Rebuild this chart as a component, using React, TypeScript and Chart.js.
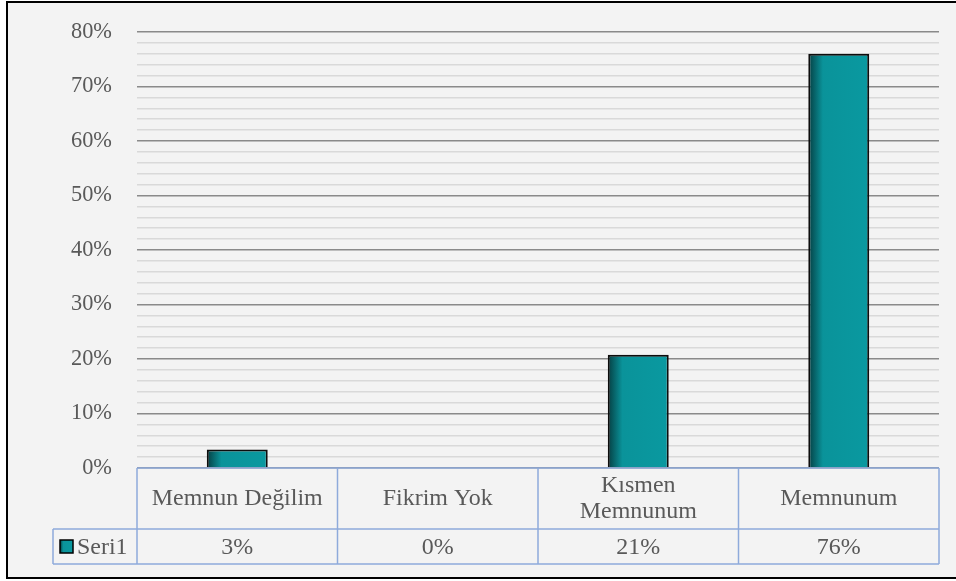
import React, { useEffect, useRef } from "react";
import { Chart, registerables } from "chart.js";

Chart.register(...registerables);

const categories: (string | string[])[] = ["Memnun Değilim", "Fikrim Yok", ["Kısmen", "Memnunum"], "Memnunum"];
const seriesName = "Seri1";
const values = [3.4, 0, 20.8, 76.0];
const yMax = 80;
const yStep = 2;
const yLabelStep = 10;

const FONT = "'Liberation Serif', Tinos, 'Times New Roman', Times, 'Nimbus Roman', FreeSerif, 'DejaVu Serif'";
const TEXT = "#595959";
const TABLE_LINE = "#8eaadb";
const BAR_PCT = 0.304;

function barGradient(c: CanvasRenderingContext2D, x0: number, x1: number) {
  const g = c.createLinearGradient(x0, 0, x1, 0);
  g.addColorStop(0, "#053e42");
  g.addColorStop(0.24, "#0a939a");
  g.addColorStop(1, "#0a99a0");
  return g;
}

function fitSize(text: string, target: number) {
  const cv = document.createElement("canvas");
  const c = cv.getContext("2d")!;
  c.font = `100px ${FONT}`;
  const w = c.measureText(text).width;
  return Math.min(24, (100 * target) / w);
}

export default function App() {
  const ref = useRef<HTMLCanvasElement>(null);
  useEffect(() => {
    if (!ref.current) return;
    let chart: Chart | null = null;
    let cancelled = false;
    const build = () => {
      if (cancelled || !ref.current) return;
      const size = fitSize("Memnun Değilim", 171);
      const tickSize = fitSize("80%", 41);
      const framePlugin = {
        id: "frame",
        beforeDraw(ch: any) {
          const c = ch.ctx as CanvasRenderingContext2D;
          c.save();
          c.fillStyle = "#ffffff";
          c.fillRect(0, 0, ch.width, ch.height);
          c.fillStyle = "#f3f3f3";
          c.fillRect(7, 2, ch.width, 576);
          c.strokeStyle = "#000000";
          c.lineWidth = 2;
          c.strokeRect(7, 2, ch.width + 10, 576);
          c.restore();
        },
        afterDraw(ch: any) {
          const c = ch.ctx as CanvasRenderingContext2D;
          const area = ch.chartArea;
          const xs = ch.scales.x;
          const n = categories.length;
          const colW = (area.right - area.left) / n;
          const top = area.bottom;
          const mid = 529;
          const bot = 564;
          const legendLeft = 53;
          c.save();
          c.strokeStyle = TABLE_LINE;
          c.lineWidth = 1.5;
          c.beginPath();
          c.moveTo(area.left, top);
          c.lineTo(area.right, top);
          c.moveTo(legendLeft, mid);
          c.lineTo(area.right, mid);
          c.moveTo(legendLeft, bot);
          c.lineTo(area.right, bot);
          c.moveTo(legendLeft, mid);
          c.lineTo(legendLeft, bot);
          for (let i = 0; i <= n; i++) {
            const x = area.left + colW * i;
            c.moveTo(x, top);
            c.lineTo(x, bot);
          }
          c.stroke();

          c.fillStyle = TEXT;
          c.font = `${size}px ${FONT}`;
          c.textAlign = "center";
          c.textBaseline = "middle";
          const catCenter = (top + mid) / 2 + 0.5;
          const valCenter = (mid + bot) / 2 + 1;
          for (let i = 0; i < n; i++) {
            const cx = xs.getPixelForValue(i);
            const lab = categories[i];
            const lines = Array.isArray(lab) ? lab : [lab];
            const lh = 26;
            const startY = catCenter - ((lines.length - 1) * lh) / 2;
            lines.forEach((t, k) => c.fillText(t, cx, startY + k * lh));
            c.fillText(Math.round(values[i]) + "%", cx, valCenter);
          }
          c.fillStyle = barGradient(c, 60, 73);
          c.fillRect(60, 540, 13, 13);
          c.strokeStyle = "#000000";
          c.lineWidth = 1.5;
          c.strokeRect(60, 540, 13, 13);
          c.fillStyle = TEXT;
          c.textAlign = "left";
          c.fillText(seriesName, 77, valCenter);
          c.restore();
        },
      };
      chart = new Chart(ref.current, {
        type: "bar",
        data: {
          labels: categories as any,
          datasets: [
            {
              label: seriesName,
              data: values,
              backgroundColor: (ctx: any) => {
                const ch = ctx.chart;
                const xs = ch.scales && ch.scales.x;
                if (!xs || ctx.type !== "data" || !ch.chartArea) return "#0a99a0";
                const cx = xs.getPixelForValue(ctx.dataIndex);
                const w = ((ch.chartArea.right - ch.chartArea.left) / categories.length) * BAR_PCT;
                return barGradient(ch.ctx, cx - w / 2, cx + w / 2);
              },
              borderColor: "#0d0d0d",
              borderWidth: 2,
              categoryPercentage: 1,
              barPercentage: BAR_PCT,
            },
          ],
        },
        options: {
          responsive: false,
          animation: false,
          devicePixelRatio: 1,
          layout: { padding: { left: 0, top: 32, right: 17, bottom: 113 } },
          plugins: { legend: { display: false }, tooltip: { enabled: false } },
          scales: {
            x: { display: false },
            y: {
              min: 0,
              max: yMax,
              afterFit: (s: any) => {
                s.width = 137;
                s.paddingTop = 5;
                s.paddingBottom = 5;
              },
              border: { display: false },
              grid: {
                drawTicks: false,
                color: (ctx: any) => (ctx.tick && ctx.tick.value % yLabelStep === 0 ? "#8a8a8a" : "#d9d9d9"),
                lineWidth: 1.5,
              },
              ticks: {
                stepSize: yStep,
                autoSkip: false,
                padding: 25,
                color: TEXT,
                font: { family: FONT, size: tickSize },
                callback: (v: any) => (Number(v) % yLabelStep === 0 ? v + "%" : ""),
              },
            },
          },
        },
        plugins: [framePlugin],
      });
    };
    const fonts = (document as any).fonts;
    if (fonts && fonts.load) {
      Promise.all([fonts.load("23px 'Liberation Serif'"), fonts.load("23px 'DejaVu Serif'")]).then(build, build);
    } else {
      build();
    }
    return () => {
      cancelled = true;
      if (chart) chart.destroy();
    };
  }, []);
  return (
    <div style={{ position: "fixed", left: 0, top: 0, width: 956, height: 581, background: "#fff" }}>
      <canvas ref={ref} width={956} height={581} style={{ display: "block" }} />
    </div>
  );
}
